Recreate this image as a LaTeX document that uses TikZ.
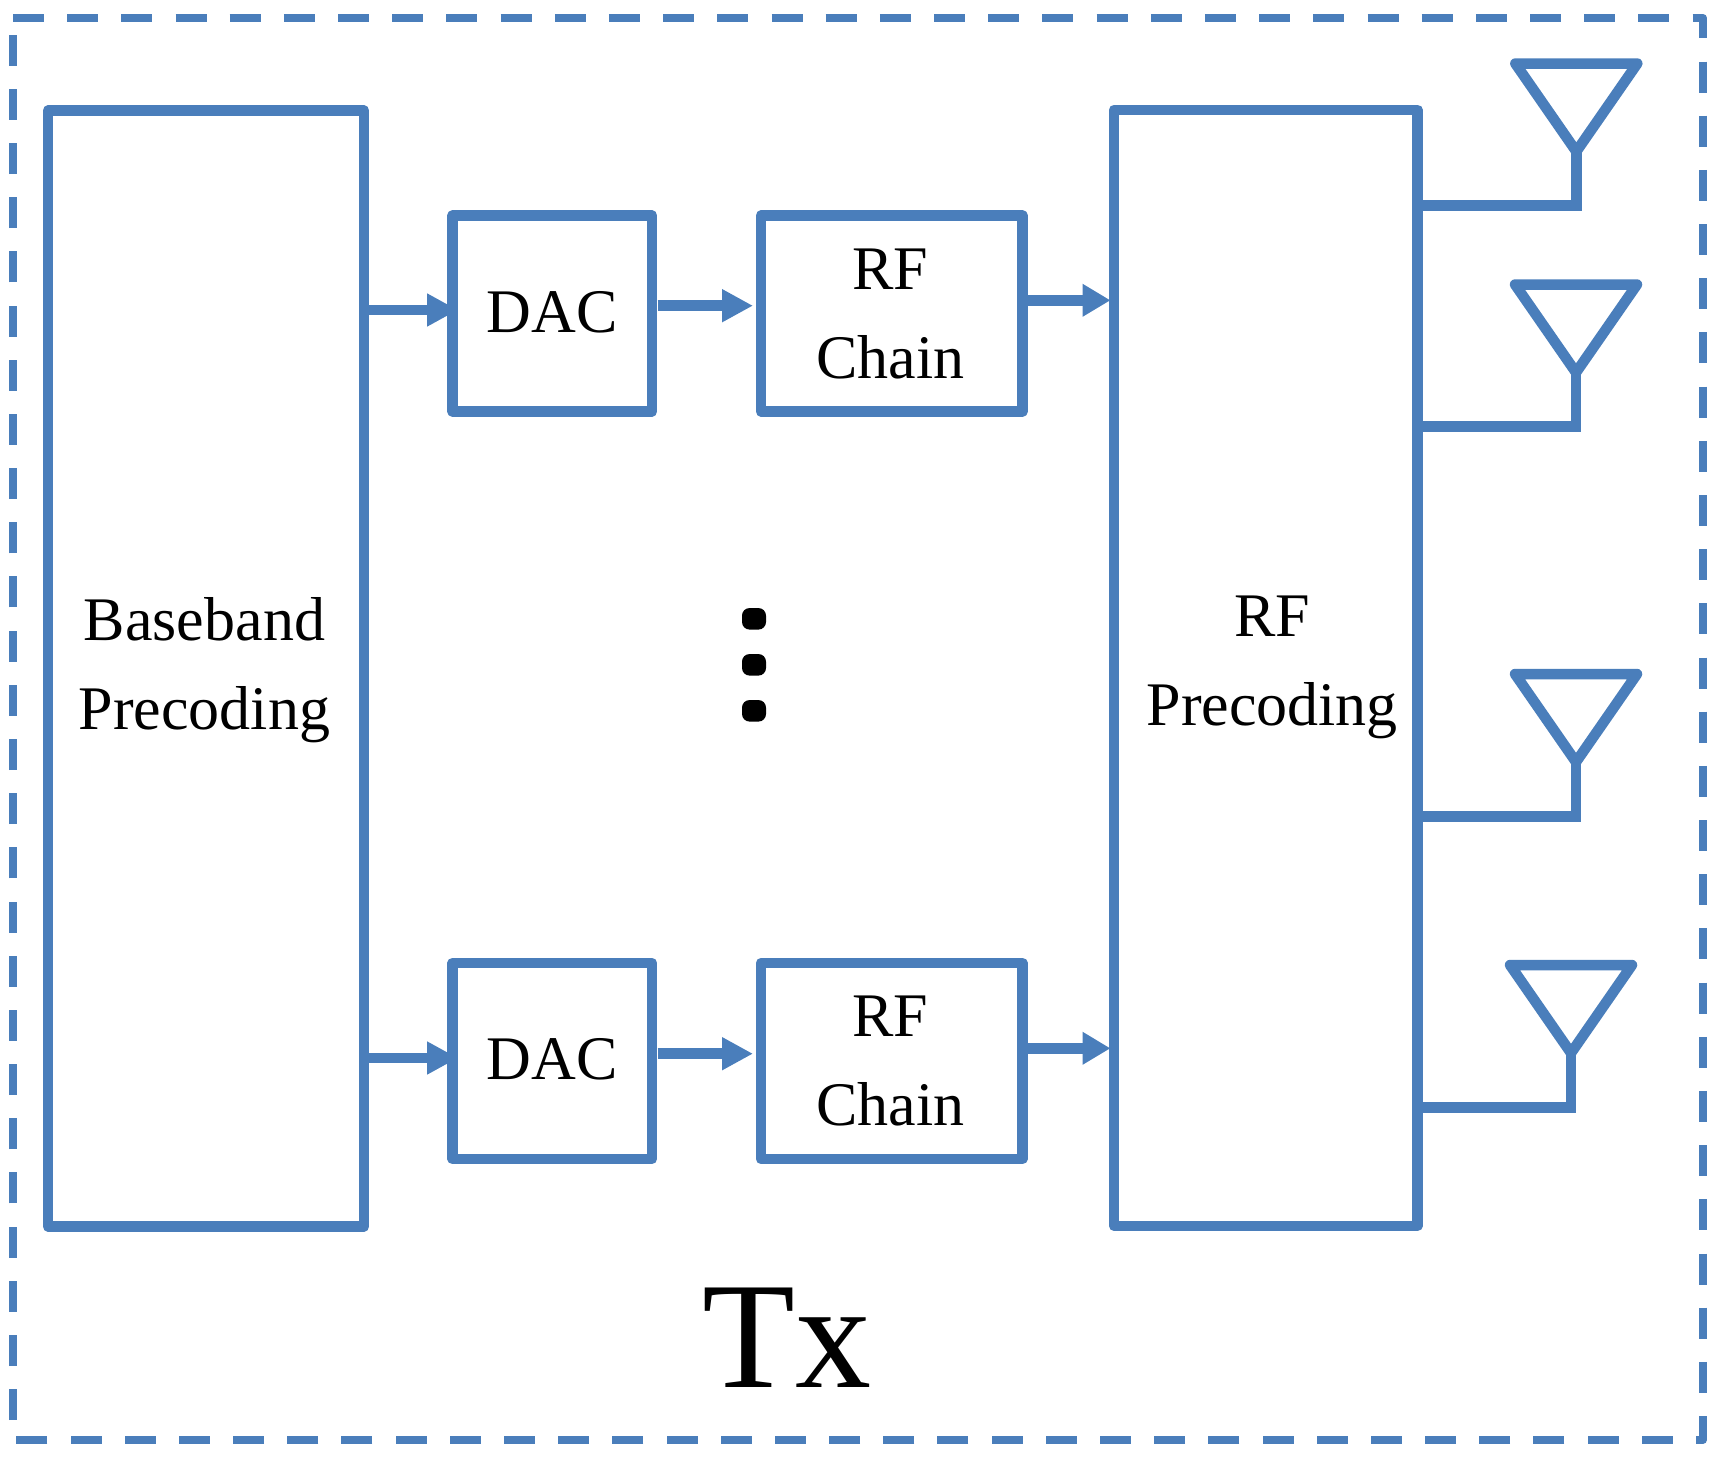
\documentclass[tikz,border=0pt]{standalone}
\usepackage{fontspec}
\setmainfont{Liberation Serif}
\usetikzlibrary{arrows.meta}
\definecolor{txblue}{HTML}{4A7EBB}
\newcommand{\toppad}{\rule{0pt}{45.5pt}}
\newcommand{\botpad}{\rule[-3.5pt]{0pt}{3.5pt}}
\tikzset{
  x=1pt,y=-1pt,
  line/.style={draw=txblue,line width=10.5pt,line join=round},
  box/.style={line,rectangle,outer sep=0pt,inner sep=0pt,align=center,text=black,
    font=\fontsize{62}{89}\selectfont},
  smallbox/.style={box,minimum width=199.5pt,minimum height=196pt},
  rfbox/.style={box,minimum width=261.5pt,minimum height=196pt},
  tallbox/.style={box,minimum height=1116pt},
  arr/.style={draw=txblue,line width=10.5pt,-{Triangle[length=31pt,width=31pt,fill=txblue]}},
  arrshort/.style={draw=txblue,line width=10.5pt,-{Triangle[length=28pt,width=31pt,fill=txblue]}},
  feed/.style={draw=txblue,line width=10.5pt,line join=miter},
  frame/.style={draw=txblue,line width=7.7pt,dash pattern=on 31pt off 23.18pt,line join=round},
  vdot/.style={rectangle,fill=black,rounded corners=7.5pt,minimum width=24pt,minimum height=21.5pt,inner sep=0pt},
}
\begin{document}
\begin{tikzpicture}
\useasboundingbox (0,0) rectangle (1723,1456);
\draw[frame] (13,17.8) -- (1703,17.8) -- (1703,1440) -- (13,1440) -- cycle;
% boxes
\node[tallbox,minimum width=316pt] (base) at (206,668.5) {\toppad Baseband\hspace*{3pt}\\Precoding\hspace*{3pt}};
\node[tallbox,minimum width=303.5pt] (prec) at (1265.75,667.75) {\hspace*{13pt}RF\\\hspace*{13pt}Precoding};
\node[smallbox] (dac1) at (552.25,313.5) {\botpad DAC};
\node[smallbox] (dac2) at (552.25,1061) {\botpad DAC};
\node[rfbox] (rf1) at (891.75,313.5) {RF\hspace*{3pt}\\Chain\hspace*{3pt}};
\node[rfbox] (rf2) at (891.75,1061) {RF\hspace*{3pt}\\Chain\hspace*{3pt}};
% row levels of the arrows
\coordinate (ya1) at (0,310);
\coordinate (yb1) at (0,305.7);
\coordinate (yc1) at (0,300.3);
\coordinate (ya2) at (0,1058);
\coordinate (yb2) at (0,1053.7);
\coordinate (yc2) at (0,1048.3);
\draw[arr,shorten >=-5.5pt] (base.east |- ya1) -- (dac1.west |- ya1);
\draw[arr,shorten <=5.5pt,shorten >=8pt] (dac1.east |- yb1) -- (rf1.west |- yb1);
\draw[arrshort,shorten >=3.5pt] (rf1.east |- yc1) -- (prec.west |- yc1);
\draw[arr,shorten >=-5.5pt] (base.east |- ya2) -- (dac2.west |- ya2);
\draw[arr,shorten <=5.5pt,shorten >=8pt] (dac2.east |- yb2) -- (rf2.west |- yb2);
\draw[arrshort,shorten >=3.5pt] (rf2.east |- yc2) -- (prec.west |- yc2);
% antennas
\coordinate (a1) at (1576.3,151.5);
\coordinate (a2) at (1576,372.5);
\coordinate (a3) at (1576,762);
\coordinate (a4) at (1571,1053);
\coordinate (f1) at (0,205.5);
\coordinate (f2) at (0,426.3);
\coordinate (f3) at (0,816.5);
\coordinate (f4) at (0,1107.5);
\draw[line] (a1) -- ++(-61,-88) -- ++(122,0) -- cycle;
\draw[line] (a2) -- ++(-61,-88) -- ++(122,0) -- cycle;
\draw[line] (a3) -- ++(-61,-88) -- ++(122,0) -- cycle;
\draw[line] (a4) -- ++(-61,-88) -- ++(122,0) -- cycle;
\draw[feed] (prec.east |- f1) -| (a1);
\draw[feed] (prec.east |- f2) -| (a2);
\draw[feed] (prec.east |- f3) -| (a3);
\draw[feed] (prec.east |- f4) -| (a4);
% dots
\node[vdot] (d1) at (754,618.8) {};
\node[vdot] (d2) at (754,664.8) {};
\node[vdot] (d3) at (754,710.8) {};
% title
\node[anchor=base,inner sep=0pt,font=\fontsize{152}{152}\selectfont] (tx) at (787,1387) {Tx};
\end{tikzpicture}
\end{document}
